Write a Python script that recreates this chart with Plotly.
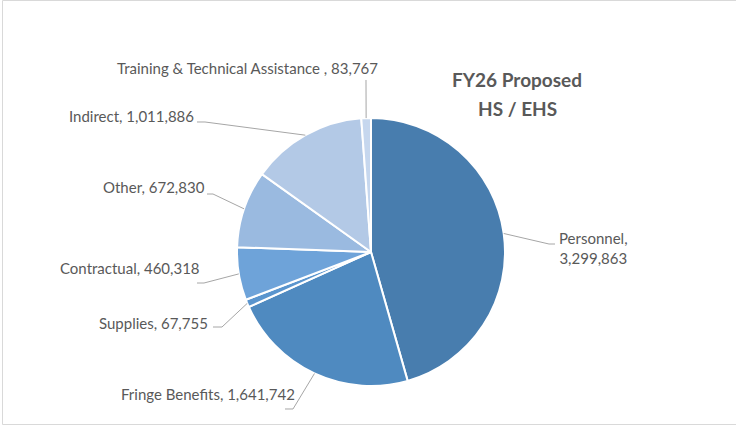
import math
import plotly.graph_objects as go

# ---- data ----
categories = ["Personnel", "Fringe Benefits", "Supplies", "Contractual",
              "Other", "Indirect", "Training & Technical Assistance "]
values = [3299863, 1641742, 67755, 460318, 672830, 1011886, 83767]
colors = ["#487DAE", "#4F8AC0", "#5A95CE", "#6EA3D9", "#9ABAE0", "#B3C9E6", "#C6D7EE"]
title_lines = ["FY26 Proposed", "HS / EHS"]

# ---- layout constants (pixels) ----
W, H = 736, 426
CX, CY, R = 371, 252, 134
GRAY_TXT = "#595959"
LINE_CLR = "#A6A6A6"
FONT = "Lato"

# label placement: (text x, text y, xanchor, elbow point(s) near label)
label_layout = {
    "Personnel": dict(x=593, y=248, xanchor="center", elbow=[(549, 244), (555, 244)]),
    "Fringe Benefits": dict(x=297, y=394, xanchor="right", elbow=[(293, 409), (285, 409)]),
    "Supplies": dict(x=210, y=323, xanchor="right", elbow=[(222, 327), (213, 327)]),
    "Contractual": dict(x=202, y=268, xanchor="right", elbow=[(204, 283), (197, 283)]),
    "Other": dict(x=207, y=187, xanchor="right", elbow=[(213, 194), (207, 194)]),
    "Indirect": dict(x=196, y=116, xanchor="right", elbow=[(205, 122), (197, 122)]),
    "Training & Technical Assistance ": dict(x=247, y=68, xanchor="center", elbow=[(366, 80)]),
}

def px(x):
    return x / W

def py(y):
    return 1 - y / H

fig = go.Figure(go.Pie(
    labels=categories,
    values=values,
    sort=False,
    direction="clockwise",
    rotation=0,
    marker=dict(colors=colors, line=dict(color="white", width=2)),
    textinfo="none",
    hoverinfo="label+value",
    showlegend=False,
    domain=dict(x=[px(CX - R), px(CX + R)], y=[py(CY + R), py(CY - R)]),
))

total = sum(values)
shapes = []
annotations = []
cum = 0
for cat, v in zip(categories, values):
    mid = (cum + v / 2) / total * 2 * math.pi
    cum += v
    ex = CX + R * math.sin(mid)
    ey = CY - R * math.cos(mid)
    spec = label_layout[cat]
    pts = [(ex, ey)] + spec["elbow"]
    path = "M " + " L ".join(f"{px(a):.5f},{py(b):.5f}" for a, b in pts)
    shapes.append(dict(type="path", xref="paper", yref="paper", path=path,
                       line=dict(color=LINE_CLR, width=1)))
    if cat == "Personnel":
        txt = f"{cat},<br>{v:,}"
    else:
        txt = f"{cat}, {v:,}"
    annotations.append(dict(x=px(spec["x"]), y=py(spec["y"]), xref="paper", yref="paper",
                            text=txt, showarrow=False, xanchor=spec["xanchor"],
                            yanchor="middle", align="center",
                            font=dict(family=FONT, size=15, color=GRAY_TXT)))

# title (two lines)
for line, ty in zip(title_lines, [79, 108]):
    annotations.append(dict(x=px(517), y=py(ty), xref="paper", yref="paper", text=f"<b>{line}</b>",
                            showarrow=False, xanchor="center", yanchor="middle", align="center",
                            font=dict(family=FONT, size=19, color=GRAY_TXT)))

# chart-area border (light gray)
for (x0, y0, x1, y1) in [(2.5, 0.5, 740, 0.5), (2.5, 424.5, 740, 424.5), (2.5, 0.5, 2.5, 424.5)]:
    shapes.append(dict(type="line", xref="paper", yref="paper",
                       x0=px(x0), y0=py(y0), x1=px(x1), y1=py(y1),
                       line=dict(color="#D9D9D9", width=1)))

fig.update_layout(
    width=W, height=H,
    margin=dict(l=0, r=0, t=0, b=0),
    paper_bgcolor="white", plot_bgcolor="white",
    shapes=shapes, annotations=annotations,
)
fig.write_html("out.html", config={"displayModeBar": False},
               post_script="document.body.style.margin='0';document.body.style.overflow='hidden';")
